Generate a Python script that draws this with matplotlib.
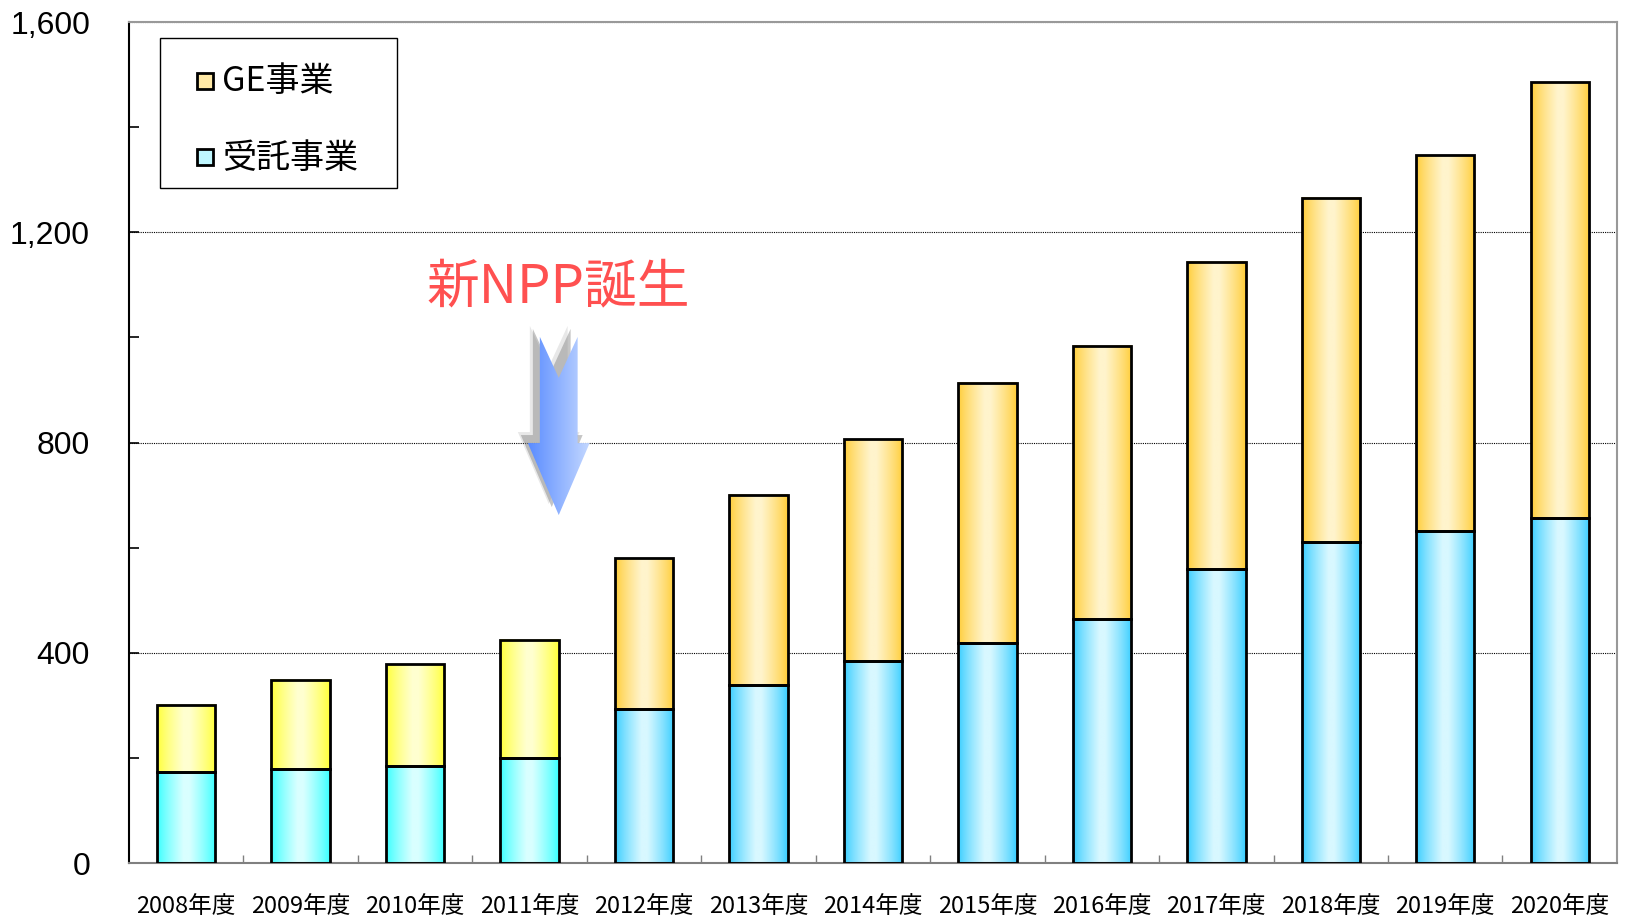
import numpy as np
import matplotlib
matplotlib.use('Agg')
import matplotlib.pyplot as plt
import matplotlib.transforms as mtransforms
from matplotlib.colors import to_rgb
from matplotlib.patches import Polygon, Rectangle
from matplotlib.legend_handler import HandlerPatch

plt.rcParams['font.family'] = ['Noto Sans CJK JP', 'DejaVu Sans']

years = ['2008年度', '2009年度', '2010年度', '2011年度', '2012年度', '2013年度', '2014年度',
         '2015年度', '2016年度', '2017年度', '2018年度', '2019年度', '2020年度']
jutaku = [173, 179, 185, 199, 293, 338, 384, 418, 464, 559, 610, 632, 656]   # 受託事業
ge = [128, 170, 193, 226, 287, 362, 422, 495, 520, 585, 656, 715, 829]        # GE事業
labels = ['GE事業', '受託事業']


def gradient_fill(ax, rect, edge, mid):
    # horizontal "tube" gradient: saturated at the sides, pale in the middle
    x0, y0 = rect.get_xy()
    w, h = rect.get_width(), rect.get_height()
    t = np.linspace(0, 1, 256)
    k = np.interp(t, [0, 0.45, 0.55, 1], [0, 1, 1, 0]) ** 0.8
    e, m = np.array(to_rgb(edge)), np.array(to_rgb(mid))
    img = e[None, :] * (1 - k[:, None]) + m[None, :] * k[:, None]
    ax.imshow(img[None, :, :], extent=[x0, x0 + w, y0, y0 + h], aspect='auto',
              interpolation='bilinear', zorder=2)


fig = plt.figure(figsize=(16.3, 9.18), dpi=100)
ax = fig.add_axes([0.0791, 0.0599, 0.9129, 0.9161])

x = np.arange(len(years))
bars_j = ax.bar(x, jutaku, 0.51, facecolor='none', edgecolor='black', lw=2, zorder=3)
bars_g = ax.bar(x, ge, 0.51, bottom=jutaku, facecolor='none', edgecolor='black', lw=2, zorder=3)

n_old = 4  # bars before 新NPP use the older palette
for i, (rj, rg) in enumerate(zip(bars_j, bars_g)):
    if i < n_old:
        gradient_fill(ax, rj, '#33FFFF', '#D9FFFF')
        gradient_fill(ax, rg, '#FFFF33', '#FFFFD0')
    else:
        gradient_fill(ax, rj, '#33CCFF', '#D8F8FF')
        gradient_fill(ax, rg, '#FFCC33', '#FFF4CC')

# arrow + label
cx, top, notch, head_y, tip = 3.255, 1001, 923, 799, 662
sw, hw = 0.165, 0.27
arrow_pts = [(cx - sw, top), (cx, notch), (cx + sw, top), (cx + sw, head_y), (cx + hw, head_y),
             (cx, tip), (cx - hw, head_y), (cx - sw, head_y)]
for dx, dy, a in [(-10, 11, 0.18), (-7, 8, 0.45)]:
    off = ax.transData + mtransforms.ScaledTranslation(dx / 100, dy / 100, fig.dpi_scale_trans)
    ax.add_patch(Polygon(arrow_pts, closed=True, fc='#808080', ec='none', alpha=a,
                         transform=off, zorder=4))
arrow = Polygon(arrow_pts, closed=True, fc='none', ec='none', zorder=5)
ax.add_patch(arrow)
t = np.linspace(0, 1, 256)
ca, cb = np.array(to_rgb('#5A8CFF')), np.array(to_rgb('#C4D8FF'))
img = ca[None, :] * (1 - t[:, None]) + cb[None, :] * t[:, None]
im = ax.imshow(img[None, :, :], extent=[cx - hw, cx + hw, tip, top], aspect='auto',
               interpolation='bilinear', zorder=5)
im.set_clip_path(arrow)
ax.set_xlim(-0.5, len(years) - 0.5)
ax.set_ylim(0, 1600)

ax.text(cx, 1095, '新NPP誕生', color='#FF5050', fontsize=38, ha='center', va='center', zorder=6)

# axes styling
ax.set_axisbelow(True)
ax.yaxis.grid(True, which='major', linestyle=(0, (1, 1)), color='black', lw=0.8)
ax.set_yticks(np.arange(0, 1601, 400))
ax.set_yticklabels([f'{v:,}' for v in range(0, 1601, 400)], family='Liberation Sans')
ax.set_yticks(np.arange(0, 1601, 200), minor=True)
ax.tick_params(axis='y', which='both', direction='in', length=7, width=1.2)
ax.tick_params(axis='y', which='major', labelsize=23, pad=28)
ax.set_xticks(x, years)
ax.set_xticks(np.arange(0.5, len(years) - 1, 1), minor=True)
ax.tick_params(axis='x', which='major', length=0, labelsize=17, pad=23)
ax.tick_params(axis='x', which='minor', direction='in', length=6, width=1, color='#808080')

ax.spines['left'].set_color('black')
ax.spines['bottom'].set_color('#808080')
ax.spines['top'].set_color('#999999')
ax.spines['right'].set_color('#999999')
for s in ax.spines.values():
    s.set_linewidth(1.5)

# legend: frame drawn by hand, entries placed inside it
ax.add_patch(Rectangle((0.0208, 0.803), 0.1593, 0.178, transform=ax.transAxes,
                       fc='white', ec='black', lw=1, zorder=7))


def small_square(legend, orig_handle, xdescent, ydescent, width, height, fontsize):
    return Rectangle((-xdescent, -ydescent), width, width)


handles = [Rectangle((0, 0), 1, 1, fc='#FFE9A6', ec='black', lw=2),
           Rectangle((0, 0), 1, 1, fc='#BFF7FF', ec='black', lw=2)]
leg = ax.legend(handles, labels, loc='center left', bbox_to_anchor=(0.0457, 0.8835),
                fontsize=24.5, frameon=False, handlelength=0.47, handleheight=0.47,
                handletextpad=0.27, labelspacing=1.22, borderpad=0, borderaxespad=0,
                handler_map={Rectangle: HandlerPatch(patch_func=small_square)})
leg.set_zorder(8)

fig.savefig('out.png', dpi=100)
